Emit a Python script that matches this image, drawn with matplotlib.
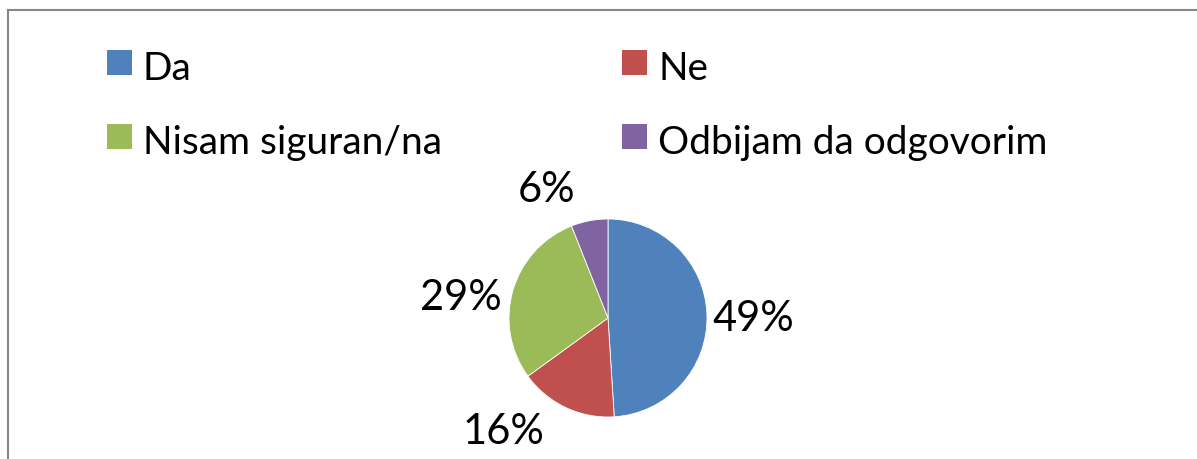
import matplotlib
matplotlib.use("Agg")
import matplotlib.pyplot as plt
from matplotlib.patches import Rectangle
from matplotlib.lines import Line2D

categories = ["Da", "Ne", "Nisam siguran/na", "Odbijam da odgovorim"]
values = [49, 16, 29, 6]
colors = ["#4F81BD", "#C0504D", "#9BBB59", "#8064A2"]
pct_labels = [f"{v}%" for v in values]

# label centres in units of pie radius (layout)
label_pos = [(1.47, 0.0), (-1.06, -1.14), (-1.49, 0.21), (-0.62, 1.30)]
# legend layout in pixels: (square left, square top) per category
legend_pos = [(107, 51), (622, 51), (107, 125), (622, 125)]

W, H = 1197, 460
fig = plt.figure(figsize=(W / 100, H / 100), dpi=100)
fig.patch.set_facecolor("white")
fontfam = ["Lato", "DejaVu Sans"]

def px(x, y):
    return x / W, 1 - y / H

# border (left and top, extends past the image edges)
fig.add_artist(Line2D([8 / W, 8 / W], [0, 1 - 11 / H], transform=fig.transFigure,
                      color="#868686", lw=1.5))
fig.add_artist(Line2D([8 / W, 1.0], [1 - 11 / H, 1 - 11 / H], transform=fig.transFigure,
                      color="#868686", lw=1.5))

# pie
cx, cy, r = 608, 319, 99
ax = fig.add_axes([(cx - r) / W, (H - cy - r) / H, 2 * r / W, 2 * r / H])
wedges, _ = ax.pie(values, colors=colors, startangle=90, counterclock=False,
                   wedgeprops=dict(linewidth=0.6, edgecolor="white"))
ax.set_xlim(-1, 1)
ax.set_ylim(-1, 1)
ax.set_aspect("auto")
ax.axis("off")
for lbl, (lx, ly) in zip(pct_labels, label_pos):
    ax.text(lx, ly, lbl, ha="center", va="center", fontsize=30, family=fontfam,
            color="black", clip_on=False)

# legend
sq = 25
for cat, col, (lx, ly) in zip(categories, colors, legend_pos):
    x0, y0 = px(lx, ly + sq)
    fig.add_artist(Rectangle((x0, y0), sq / W, sq / H, transform=fig.transFigure,
                             facecolor=col, edgecolor="none"))
    tx, ty = px(lx + 36, ly + 29)
    fig.text(tx, ty, cat, ha="left", va="baseline", fontsize=28, family=fontfam,
             color="black")

fig.savefig("out.png", dpi=100, facecolor="white")
